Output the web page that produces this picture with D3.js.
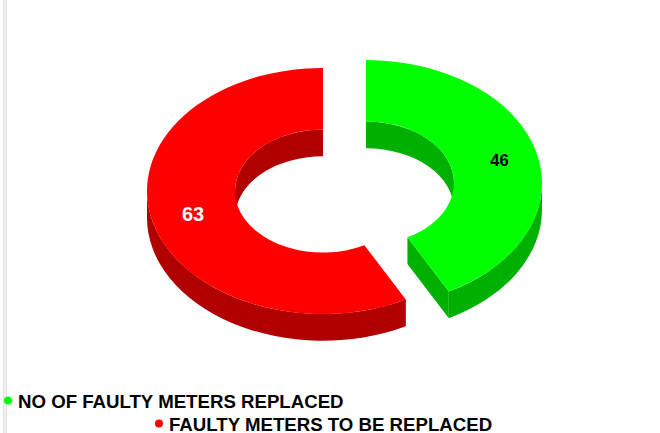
<!DOCTYPE html>
<html>
<head>
<meta charset="utf-8">
<script src="https://cdnjs.cloudflare.com/ajax/libs/d3/7.8.5/d3.min.js"></script>
<style>
    html, body { margin: 0; padding: 0; background: #fff; overflow: hidden; }
    svg { display: block; font-family: "Liberation Sans", Arial, sans-serif; font-weight: bold; }
</style>
</head>
<body>
<div id="chart"></div>
<script>
const categories = ['NO OF FAULTY METERS REPLACED', 'FAULTY METERS TO BE REPLACED'];
const values = [46, 63];
const topColors = ['#00ff00', '#ff0000'];
const sideColors = ['#00b000', '#b00000'];
const labelColors = ['#000', '#fff'];

const width = 660, height = 433;
const rx = 176, ry = 123, holeRatio = 0.5, depth = 26.7;
// each slice is pulled away from the middle, so it has its own center
const centers = [[366, 183], [323, 191]];
const labelPos = [[499.5, 160], [193, 213.5]];
const legendPos = [[18, 401.5], [169, 424.5]];

const svg = d3.select('#chart').append('svg')
    .attr('width', width)
    .attr('height', height);

// frame lines at the left edge
svg.append('rect').attr('x', 3).attr('y', 0).attr('width', 4).attr('height', height).attr('fill', '#e2e2e2');
svg.append('rect').attr('x', 4.5).attr('y', 0).attr('width', 1).attr('height', height).attr('fill', '#fff');

const slices = d3.pie().sort(null).value(d => d)(values);

function point(c, a, k, dy) {
    return [c[0] + rx * k * Math.sin(a), c[1] - ry * k * Math.cos(a) + dy];
}

// band between the ellipse arc at radius k and the same arc moved down by depth
function wall(c, a0, a1, k) {
    const p0 = point(c, a0, k, 0), p1 = point(c, a1, k, 0);
    const q1 = point(c, a1, k, depth), q0 = point(c, a0, k, depth);
    const large = a1 - a0 > Math.PI ? 1 : 0;
    return `M${p0}A${rx * k},${ry * k} 0 ${large} 1 ${p1}L${q1}A${rx * k},${ry * k} 0 ${large} 0 ${q0}Z`;
}

function cutFace(c, a) {
    return `M${point(c, a, holeRatio, 0)}L${point(c, a, 1, 0)}L${point(c, a, 1, depth)}L${point(c, a, holeRatio, depth)}Z`;
}

const arc = d3.arc().innerRadius(rx * holeRatio).outerRadius(rx);

slices.forEach((s, i) => {
    const c = centers[i];
    const g = svg.append('g');
    const side = sideColors[i];

    // inner wall shows on the far half of the hole, outer wall on the near half
    const innerFrom = Math.max(s.startAngle, i === 0 ? 0 : 1.5 * Math.PI);
    const innerTo = Math.min(s.endAngle, i === 0 ? 0.5 * Math.PI : 2 * Math.PI);
    g.append('path').attr('d', wall(c, innerFrom, innerTo, holeRatio)).attr('fill', side);

    const outerFrom = Math.max(s.startAngle, 0.5 * Math.PI);
    const outerTo = Math.min(s.endAngle, 1.5 * Math.PI);
    g.append('path').attr('d', wall(c, outerFrom, outerTo, 1)).attr('fill', side);

    if (i === 0) {
        g.append('path').attr('d', cutFace(c, s.endAngle)).attr('fill', side);
    }

    g.append('path')
        .attr('d', arc(s))
        .attr('transform', `translate(${c[0]},${c[1]}) scale(1,${ry / rx})`)
        .attr('fill', topColors[i]);

    svg.append('text')
        .attr('x', labelPos[i][0])
        .attr('y', labelPos[i][1])
        .attr('text-anchor', 'middle')
        .attr('dominant-baseline', 'central')
        .attr('font-size', i === 0 ? 16.5 : 20)
        .attr('fill', labelColors[i])
        .text(values[i]);
});

categories.forEach((name, i) => {
    svg.append('circle')
        .attr('cx', legendPos[i][0] - 10)
        .attr('cy', legendPos[i][1] - 1)
        .attr('r', 4)
        .attr('fill', topColors[i]);
    svg.append('text')
        .attr('x', legendPos[i][0])
        .attr('y', legendPos[i][1])
        .attr('dominant-baseline', 'central')
        .attr('font-size', 18.65)
        .attr('fill', '#000')
        .text(name);
});
</script>
</body>
</html>
